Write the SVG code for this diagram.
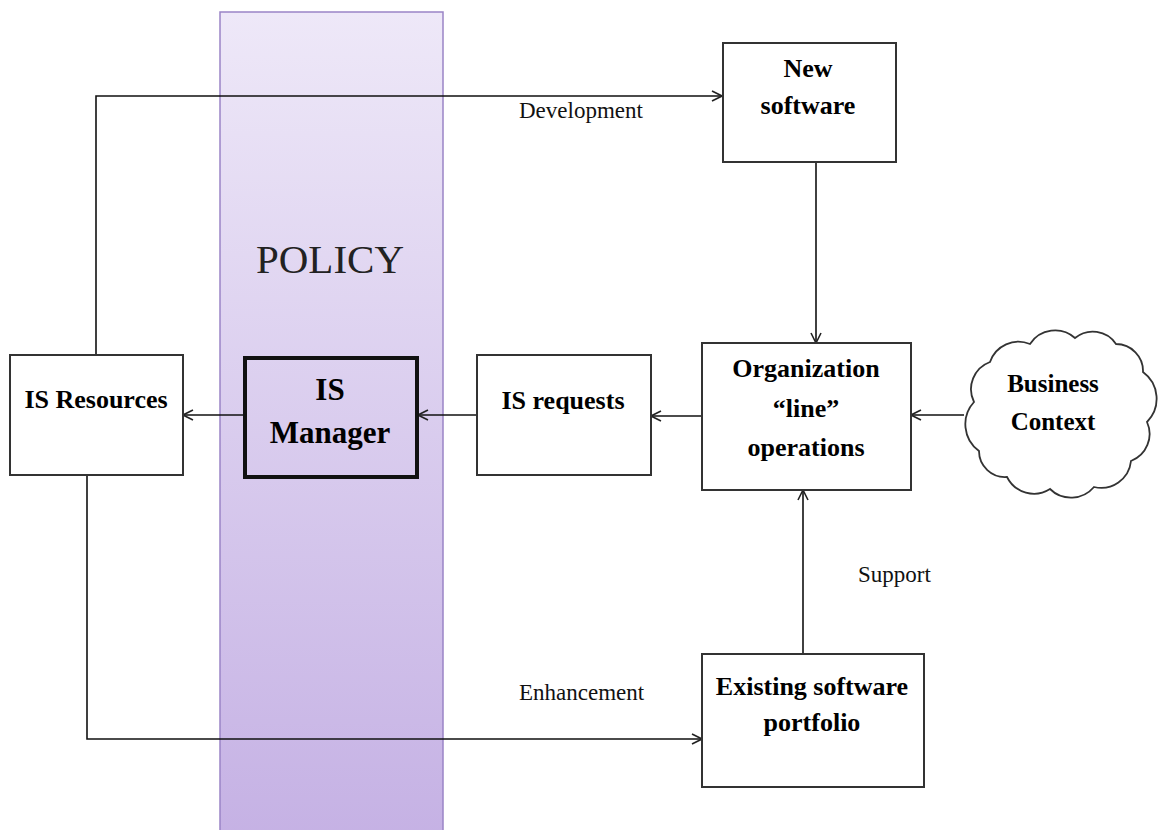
<svg xmlns="http://www.w3.org/2000/svg" width="1160" height="830" viewBox="0 0 1160 830">
  <style>
    .box { fill: #ffffff; stroke: #333333; stroke-width: 2; }
    .edge { fill: none; stroke: #111111; stroke-width: 1.6; }
    .lbl { font-family: "Liberation Serif", "Times New Roman", serif; font-weight: bold; font-size: 26px; fill: #000; text-anchor: middle; }
    .elbl { font-family: "Liberation Serif", "Times New Roman", serif; font-size: 23px; fill: #111; }
  </style>
  <defs>
    <linearGradient id="policyGrad" x1="0" y1="0" x2="0" y2="1">
      <stop offset="0" stop-color="#eee8f8"/>
      <stop offset="1" stop-color="#c5b1e4"/>
    </linearGradient>
    <marker id="arrow" viewBox="0 0 12 12" refX="11" refY="6" markerWidth="12" markerHeight="12" markerUnits="userSpaceOnUse" orient="auto">
      <path d="M1,1 L11,6 L1,11" fill="none" stroke="#222" stroke-width="1.6"/>
    </marker>
  </defs>
  <rect width="1160" height="830" fill="#ffffff"/>

  <g id="policy">
    <rect x="220" y="12" width="223" height="830" fill="url(#policyGrad)" stroke="#9a84c6" stroke-width="1.5"/>
    <text x="330" y="273" font-family="Liberation Serif, Times New Roman, serif" font-size="41" fill="#222" text-anchor="middle">POLICY</text>
  </g>

  <g id="connectors">
    <polyline class="edge" points="96,355 96,96 722,96" marker-end="url(#arrow)"/>
    <polyline class="edge" points="87,475 87,739 702,739" marker-end="url(#arrow)"/>
    <line class="edge" x1="816" y1="162" x2="816" y2="343" marker-end="url(#arrow)"/>
    <line class="edge" x1="803" y1="654" x2="803" y2="490" marker-end="url(#arrow)"/>
    <line class="edge" x1="702" y1="416" x2="651" y2="416" marker-end="url(#arrow)"/>
    <line class="edge" x1="477" y1="415" x2="418" y2="415" marker-end="url(#arrow)"/>
    <line class="edge" x1="243" y1="415" x2="183" y2="415" marker-end="url(#arrow)"/>
    <line class="edge" x1="964" y1="415" x2="911" y2="415" marker-end="url(#arrow)"/>
    <text class="elbl" x="519" y="118">Development</text>
    <text class="elbl" x="519" y="700">Enhancement</text>
    <text class="elbl" x="858" y="582">Support</text>
  </g>

  <g id="new-software">
    <rect class="box" x="723" y="43" width="173" height="119"/>
    <text class="lbl" x="808" y="77">New</text>
    <text class="lbl" x="808" y="114">software</text>
  </g>

  <g id="organization">
    <rect class="box" x="702" y="343" width="209" height="147"/>
    <text class="lbl" x="806" y="377">Organization</text>
    <text class="lbl" x="806" y="417">“line”</text>
    <text class="lbl" x="806" y="456">operations</text>
  </g>

  <g id="is-requests">
    <rect class="box" x="477" y="355" width="174" height="120"/>
    <text class="lbl" x="563" y="409">IS requests</text>
  </g>

  <g id="is-manager">
    <rect x="245" y="358" width="172" height="119" fill="none" stroke="#111" stroke-width="4"/>
    <text class="lbl" x="330" y="400" style="font-size:31px">IS</text>
    <text class="lbl" x="330" y="443" style="font-size:31px">Manager</text>
  </g>

  <g id="is-resources">
    <rect class="box" x="10" y="355" width="173" height="120"/>
    <text class="lbl" x="96" y="408">IS Resources</text>
  </g>

  <g id="existing-software">
    <rect class="box" x="702" y="654" width="222" height="133"/>
    <text class="lbl" x="812" y="695">Existing software</text>
    <text class="lbl" x="812" y="731">portfolio</text>
  </g>

  <g id="business-context">
    <path d="M974,402 A29,29 0 0 1 990,362 A30,30 0 0 1 1030,344 A30,30 0 0 1 1075,338 A28,28 0 0 1 1116,344 A27,27 0 0 1 1143,372 A33,33 0 0 1 1147,422 A29,29 0 0 1 1131,461 A30,30 0 0 1 1094,487 A30,30 0 0 1 1050,489 A30,30 0 0 1 1007,477 A26,26 0 0 1 979,451 A33,33 0 0 1 974,402 Z" fill="#ffffff" stroke="#333" stroke-width="1.8"/>
    <text class="lbl" x="1053" y="392" style="font-size:25px">Business</text>
    <text class="lbl" x="1053" y="430" style="font-size:25px">Context</text>
  </g>
</svg>
